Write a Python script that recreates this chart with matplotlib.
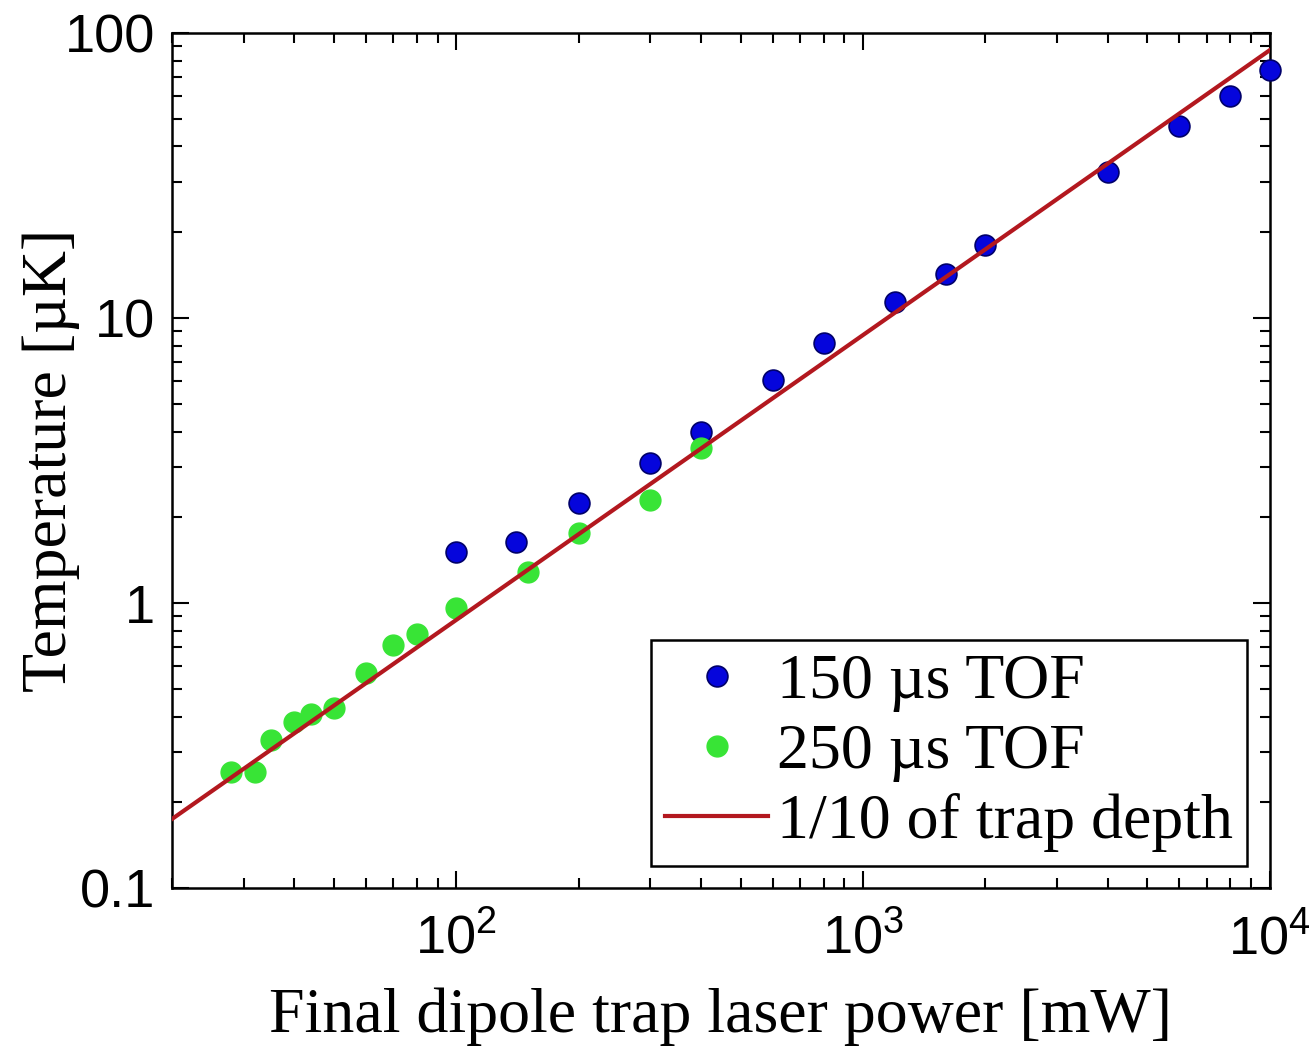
import numpy as np
import matplotlib
matplotlib.use("Agg")
import matplotlib.pyplot as plt
from matplotlib.ticker import FixedLocator, FuncFormatter, LogLocator, NullFormatter

plt.rcParams['font.family'] = 'Liberation Sans'
plt.rcParams['mathtext.fontset'] = 'custom'
plt.rcParams['mathtext.rm'] = 'Liberation Sans'

# power [mW] and temperature [uK]
p_150 = [100, 140, 200, 300, 400, 600, 800, 1200, 1600, 2000, 4000, 6000, 8000, 10000]
t_150 = [1.51, 1.64, 2.24, 3.10, 3.98, 6.06, 8.17, 11.4, 14.3, 18.0, 32.5, 47.2, 60.1, 74.1]

p_250 = [28, 32, 35, 40, 44, 50, 60, 70, 80, 100, 150, 200, 300, 400]
t_250 = [0.255, 0.256, 0.332, 0.382, 0.41, 0.43, 0.57, 0.715, 0.78, 0.965, 1.29, 1.76, 2.30, 3.50]

# 1/10 of trap depth (straight line on log-log)
p_line = [20, 10000]
t_line = [0.175, 87]

fig = plt.figure(figsize=(13.13, 10.5), dpi=100)
ax = fig.add_axes([0.131, 0.154, 0.836, 0.8146])

ax.plot(p_150, t_150, 'o', ms=15, color='#0505dc', mec='#00006a', mew=1.2,
        label='150 µs TOF', clip_on=False, zorder=3)
ax.plot(p_250, t_250, 'o', ms=15, color='#38e436', mec='#38e436', mew=1,
        label='250 µs TOF', clip_on=False, zorder=3)
ax.plot(p_line, t_line, '-', color='#b3181f', lw=3, label='1/10 of trap depth', zorder=4)

ax.set_xscale('log')
ax.set_yscale('log')
ax.set_xlim(20, 1e4)
ax.set_ylim(0.1, 100)

ax.xaxis.set_major_locator(FixedLocator([1e2, 1e3, 1e4]))
ax.xaxis.set_major_formatter(FuncFormatter(lambda v, pos: r'$\mathrm{10^{%d}}$' % round(np.log10(v))))
ax.xaxis.set_minor_locator(LogLocator(base=10, subs=np.arange(2, 10)))
ax.xaxis.set_minor_formatter(NullFormatter())

ax.yaxis.set_major_locator(FixedLocator([0.1, 1, 10, 100]))
ax.yaxis.set_major_formatter(FuncFormatter(lambda v, pos: '%g' % v))
ax.yaxis.set_minor_locator(LogLocator(base=10, subs=np.arange(2, 10)))
ax.yaxis.set_minor_formatter(NullFormatter())

ax.tick_params(which='both', direction='in', top=True, right=True, width=1.5, color='black')
ax.tick_params(which='major', length=12)
ax.tick_params(which='minor', length=7)
ax.tick_params(axis='y', which='major', labelsize=39, pad=12)
ax.tick_params(axis='x', which='major', labelsize=39, pad=18)
for s in ax.spines.values():
    s.set_linewidth(1.8)

ax.set_xlabel('Final dipole trap laser power [mW]', family='Liberation Serif', fontsize=46, labelpad=16)
ax.set_ylabel('Temperature [µK]', family='Liberation Serif', fontsize=46, labelpad=-11)

leg = ax.legend(loc='lower right', prop={'family': 'Liberation Serif', 'size': 46},
                frameon=True, fancybox=False, edgecolor='black', framealpha=1,
                labelspacing=0.17, borderpad=0.22, handlelength=1.6, handletextpad=0.15,
                borderaxespad=0.35, numpoints=1)
leg.get_frame().set_linewidth(1.8)

plt.savefig('out.png', dpi=100)
plt.close()
